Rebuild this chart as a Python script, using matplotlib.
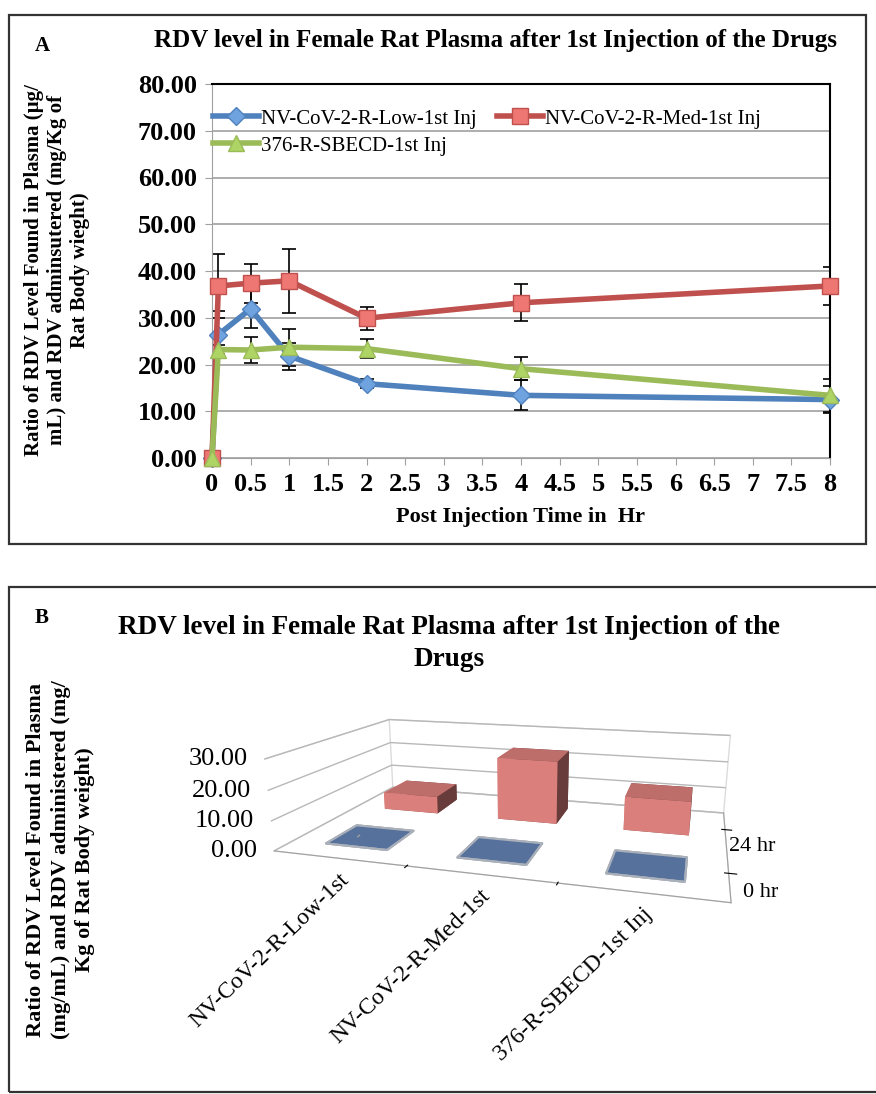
import matplotlib
matplotlib.use("Agg")
import matplotlib.pyplot as plt
from matplotlib.patches import Rectangle
from matplotlib.transforms import offset_copy
from mpl_toolkits.mplot3d import proj3d
import numpy as np

plt.rcParams['font.family'] = ['Liberation Serif', 'DejaVu Serif']

### Panel A data
time_hr = [0, 0.083, 0.5, 1, 2, 4, 8]
low_mean = [0, 26.4, 31.9, 21.8, 15.9, 13.4, 12.5]
low_err = [0, 5.0, 4.0, 2.9, 1.0, 3.2, 2.9]
med_mean = [0, 36.8, 37.4, 37.9, 29.9, 33.2, 36.8]
med_err = [0, 6.9, 4.2, 6.9, 2.5, 4.0, 4.0]
sbecd_mean = [0, 23.2, 23.1, 23.7, 23.4, 19.1, 13.4]
sbecd_err = [0, 1.0, 2.8, 4.0, 2.0, 2.4, 3.5]
xticks_a = np.arange(0, 8.5, 0.5)
xticklabels_a = ['0', '0.5', '1', '1.5', '2', '2.5', '3', '3.5', '4', '4.5',
                 '5', '5.5', '6', '6.5', '7', '7.5', '8']
yticks_a = [0, 10, 20, 30, 40, 50, 60, 70, 80]

### Panel B data
groups = ['NV-CoV-2-R-Low-1st', 'NV-CoV-2-R-Med-1st', '376-R-SBECD-1st Inj']
rows = ['0 hr', '24 hr']
vals_0hr = [0, 0, 0]
vals_24hr = [6.5, 23, 12]
zticks_b = [0, 10, 20, 30]

W, H = 876, 1094
fig = plt.figure(figsize=(W / 100, H / 100), dpi=100)


def px(x, y):
    return x / W, 1 - y / H


### Panel A
ax = fig.add_axes([212 / W, 1 - 458 / H, (830 - 212) / W, (458 - 84) / H])

series = [
    (low_mean, low_err, '#4f81bd', '#6fa3e0', 'D', 9, 'NV-CoV-2-R-Low-1st Inj'),
    (med_mean, med_err, '#c0504d', '#ee7773', 's', 12, 'NV-CoV-2-R-Med-1st Inj'),
    (sbecd_mean, sbecd_err, '#9bbb59', '#aed465', '^', 11, '376-R-SBECD-1st Inj'),
]
handles = []
for mean, err, col, fill, mk, ms, lab in series:
    ax.errorbar(time_hr, mean, yerr=err, fmt='none', ecolor='black',
                elinewidth=1.2, capsize=5, capthick=1.2, zorder=2)
    h, = ax.plot(time_hr, mean, color=col, lw=4, marker=mk, ms=ms,
                 mfc=fill, mec=col, mew=1, label=lab, zorder=3, clip_on=False)
    handles.append(h)

ax.set_xlim(0, 8)
ax.set_ylim(0, 80)
ax.set_xticks(xticks_a)
ax.set_xticklabels(xticklabels_a, fontsize=19, fontweight='bold')
ax.set_yticks(yticks_a)
ax.set_yticklabels(['%.2f' % v for v in yticks_a], fontsize=19, fontweight='bold')
ax.yaxis.grid(True, color='#a0a0a0', lw=1.2)
ax.set_axisbelow(True)
ax.tick_params(axis='both', color='#a0a0a0', length=5, pad=6)
for s in ['left', 'bottom']:
    ax.spines[s].set_color('#a0a0a0')
for s in ['top', 'right']:
    ax.spines[s].set_color('black')
    ax.spines[s].set_linewidth(1.5)

leg = ax.legend([handles[0], handles[2], handles[1]],
                [handles[0].get_label(), handles[2].get_label(), handles[1].get_label()],
                ncol=2, loc='upper left', bbox_to_anchor=(-0.012, 0.955),
                frameon=False, fontsize=15, handlelength=2.2, handletextpad=0.1,
                columnspacing=1.0, labelspacing=0.35, borderaxespad=0)

ax.set_xlabel('Post Injection Time in  Hr', fontsize=16, fontweight='bold', labelpad=8)
fig.text(*px(57, 270), 'Ratio of RDV Level Found in Plasma (\u00b5g/\nmL) and RDV adminsutered (mg/Kg of\nRat Body wieght)',
         rotation=90, ha='center', va='center', fontsize=15, fontweight='bold',
         linespacing=1.2)
fig.text(*px(496, 40), 'RDV level in Female Rat Plasma after 1st Injection of the Drugs',
         ha='center', va='center', fontsize=18, fontweight='bold')
fig.text(*px(42, 46), 'A', ha='center', va='center', fontsize=15, fontweight='bold')
fig.patches.append(Rectangle(px(9, 544), (866 - 9) / W, (544 - 15) / H,
                             transform=fig.transFigure, fill=False, lw=1.6, ec='#333333'))

### Panel B
ax3 = fig.add_axes([0.155, 0.058, 0.86, 0.43], projection='3d')
ax3.set_proj_type('persp', focal_length=0.25)
ax3.view_init(elev=15, azim=-74)
ax3.set_box_aspect((3.2, 1.9, 0.69), zoom=0.985)

bw, bd = 0.48, 0.48
xpos = np.arange(len(groups))
ax3.bar3d(xpos - bw / 2, np.full(3, 1.0) - bd / 2, np.zeros(3), bw, bd, vals_24hr,
          color='#f7908b', shade=True, edgecolor='none')
ax3.bar3d(xpos - bw / 2, np.zeros(3) - bd / 2, np.zeros(3), bw, bd, vals_0hr,
          color='#56719c', shade=False, edgecolor='#aab0ba', linewidth=1.5)

ax3.set_xlim(-0.5, 2.5)
ax3.set_ylim(-0.5, 1.5)
ax3.set_zlim(0, 30)
ax3.set_zticks(zticks_b)
ax3.set_zticklabels([])
ax3.set_yticks([0, 1])
ax3.set_yticklabels(rows, fontsize=16)
ax3.set_xticks([0.5, 1.5])
ax3.set_xticklabels([])

for axis in [ax3.xaxis, ax3.yaxis, ax3.zaxis]:
    axis.pane.fill = False
    axis.pane.set_edgecolor('#b8b8b8')
    axis.line.set_color('#a0a0a0')
ax3.zaxis.line.set_color((1, 1, 1, 0))
ax3.zaxis._axinfo['tick']['inward_factor'] = 0
ax3.zaxis._axinfo['tick']['outward_factor'] = 0
ax3.xaxis._axinfo['grid']['linewidth'] = 0
ax3.yaxis._axinfo['grid']['linewidth'] = 0
ax3.zaxis._axinfo['grid']['color'] = '#b8b8b8'
ax3.zaxis._axinfo['grid']['linewidth'] = 1.0

# front-left value axis and the rotated category labels, placed from the 3D projection
fig.canvas.draw()
M = ax3.get_proj()


def to2d(x, y, z):
    xs, ys, _ = proj3d.proj_transform(x, y, z, M)
    return xs, ys


x0, y0 = ax3.get_xlim()[0], ax3.get_ylim()[0]
zx, zy = zip(*[to2d(x0, y0, v) for v in (0, 30)])
ax3.plot(zx, zy, color='#a0a0a0', lw=1.0, transform=ax3.transData, zorder=5)
tick_tr = offset_copy(ax3.transData, fig=fig, x=-12, y=0, units='points')
for v in zticks_b:
    tx, ty = to2d(x0, y0, v)
    ax3.annotate('', xy=(tx, ty), xycoords='data', xytext=(-5, 0),
                 textcoords='offset points',
                 arrowprops=dict(arrowstyle='-', color='#a0a0a0', lw=1.0))
    ax3.text2D(tx, ty, '%.2f' % v, transform=tick_tr, ha='right', va='center', fontsize=19)

lab_tr = offset_copy(ax3.transData, fig=fig, x=0, y=-8, units='points')
for i, g in enumerate(groups):
    tx, ty = to2d(i, y0, 0)
    ax3.text2D(tx, ty, g, transform=lab_tr, rotation=44, ha='right', va='top',
               rotation_mode='anchor', fontsize=17)

fig.text(*px(61, 860), 'Ratio of RDV Level Found in Plasma\n(mg/mL) and RDV administered (mg/\nKg of Rat Body weight)',
         rotation=90, ha='center', va='center', fontsize=16, fontweight='bold',
         linespacing=1.3)
fig.text(*px(449, 628), 'RDV level in Female Rat Plasma after 1st Injection of the',
         ha='center', va='center', fontsize=19.5, fontweight='bold')
fig.text(*px(449, 660), 'Drugs', ha='center', va='center', fontsize=19.5, fontweight='bold')
fig.text(*px(42, 618), 'B', ha='center', va='center', fontsize=15, fontweight='bold')
fig.patches.append(Rectangle(px(9, 1092), (900 - 9) / W, (1092 - 587) / H,
                             transform=fig.transFigure, fill=False, lw=1.6, ec='#333333'))

fig.savefig('out.png', dpi=100)
